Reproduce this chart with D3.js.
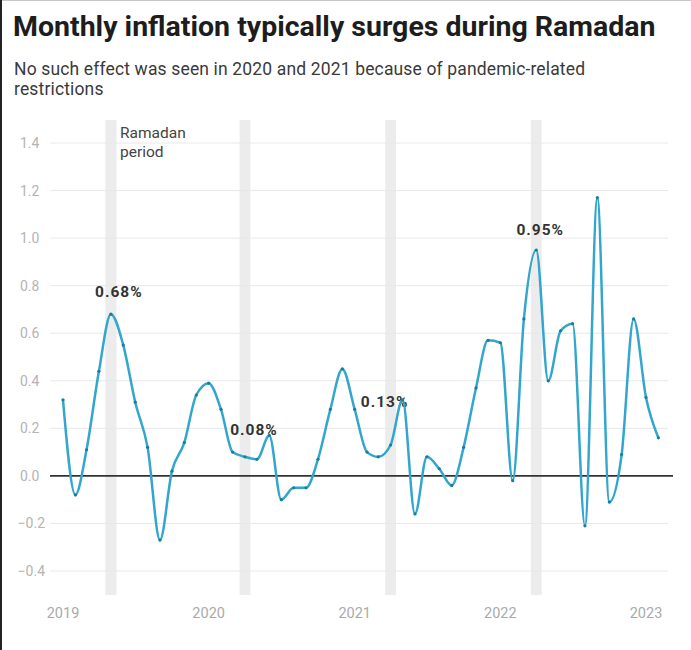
<!DOCTYPE html>
<html>
<head>
<meta charset="utf-8">
<script src="https://cdn.jsdelivr.net/npm/d3@7"></script>
<style>
  body { margin: 0; background: #fff; }
  svg { display: block; font-family: Roboto, "Noto Sans", sans-serif; }
</style>
</head>
<body>
<script>
    //Declare consts
        const width = 691;
        const height = 650;

    //Data - monthly inflation (%), Jan 2019 .. Feb 2023
        const startMonth = new Date(2019, 0, 1);
        const inflation = [
            0.32, -0.08, 0.11, 0.44, 0.68, 0.55, 0.31, 0.12, -0.27, 0.02, 0.14, 0.34,
            0.39, 0.28, 0.10, 0.08, 0.07, 0.17, -0.10, -0.05, -0.05, 0.07, 0.28, 0.45,
            0.28, 0.10, 0.08, 0.13, 0.32, -0.16, 0.08, 0.03, -0.04, 0.12, 0.37, 0.57,
            0.56, -0.02, 0.66, 0.95, 0.40, 0.61, 0.64, -0.21, 1.17, -0.11, 0.09, 0.66,
            0.33, 0.16
        ];
        // Ramadan months (year, month index)
        const ramadanMonths = [[2019, 4], [2020, 3], [2021, 3], [2022, 3]];
        const annotatedValues = ["0.68%", "0.08%", "0.13%", "0.95%"];
        const yTicks = [-0.4, -0.2, 0.0, 0.2, 0.4, 0.6, 0.8, 1.0, 1.2, 1.4];
        const yearTicks = [2019, 2020, 2021, 2022, 2023];

        const data = inflation.map((v, i) => ({
            date: new Date(startMonth.getFullYear(), startMonth.getMonth() + i, 1),
            value: v
        }));

    //Scales
        const xScale = d3.scaleTime()
            .domain([new Date(2019, 0, 1), new Date(2023, 0, 1)])
            .range([63, 646]);

        const yScale = d3.scaleLinear()
            .domain([-0.4, 1.4])
            .range([571, 143]);

    //SVG
        const svg = d3.select("body").append("svg")
            .attr("width", width)
            .attr("height", height);

        // frame
        svg.append("line").attr("x1", 0).attr("x2", width).attr("y1", 0.5).attr("y2", 0.5)
            .attr("stroke", "#c8c8c8");
        svg.append("line").attr("x1", 1).attr("x2", 1).attr("y1", 0).attr("y2", height)
            .attr("stroke", "#222").attr("stroke-width", 2);

    //Titles
        svg.append("text")
            .attr("x", 13).attr("y", 36)
            .attr("font-size", 28.5).attr("font-weight", 700).attr("fill", "#1d1d1d")
            .text("Monthly inflation typically surges during Ramadan");

        const sub = svg.append("text")
            .attr("x", 14).attr("y", 75)
            .attr("font-size", 17.5).attr("letter-spacing", 0.15).attr("fill", "#3a3a3a");
        sub.append("tspan").attr("x", 14).text("No such effect was seen in 2020 and 2021 because of pandemic-related");
        sub.append("tspan").attr("x", 14).attr("dy", 20).text("restrictions");

    //Ramadan bands
        const bandHalf = 0.45; // months
        svg.selectAll("rect.band")
            .data(ramadanMonths)
            .enter().append("rect")
            .attr("class", "band")
            .attr("x", d => xScale(new Date(d[0], d[1], 1)) - (xScale(new Date(d[0], d[1] + 1, 1)) - xScale(new Date(d[0], d[1], 1))) * bandHalf)
            .attr("width", d => (xScale(new Date(d[0], d[1] + 1, 1)) - xScale(new Date(d[0], d[1], 1))) * bandHalf * 2)
            .attr("y", 120)
            .attr("height", 475)
            .attr("fill", "#ececec");

        svg.append("text")
            .attr("x", 120).attr("y", 138)
            .attr("font-size", 15.5).attr("fill", "#444")
            .selectAll("tspan").data(["Ramadan", "period"]).enter().append("tspan")
            .attr("x", 120).attr("dy", (d, i) => i ? 19 : 0)
            .text(d => d);

    //Grid + y axis labels
        svg.selectAll("line.grid")
            .data(yTicks.filter(d => d !== 0))
            .enter().append("line")
            .attr("class", "grid")
            .attr("x1", 50).attr("x2", 668)
            .attr("y1", d => yScale(d)).attr("y2", d => yScale(d))
            .attr("stroke", "#e8e8e8").attr("stroke-width", 1);

        svg.selectAll("text.ylab")
            .data(yTicks)
            .enter().append("text")
            .attr("class", "ylab")
            .attr("x", d => d < 0 ? 45 : 20)
            .attr("text-anchor", d => d < 0 ? "end" : "start")
            .attr("y", d => yScale(d) + 5)
            .attr("font-size", 14).attr("fill", "#b4b4b4")
            .text(d => d3.format(".1f")(d).replace("-", "\u2212"));

    //Annotation labels (drawn under the line)
        const labelOffsets = [[8, -17], [9, -22], [-6, -38], [4, -15]];
        svg.selectAll("text.anno")
            .data(ramadanMonths)
            .enter().append("text")
            .attr("class", "anno")
            .attr("x", (d, i) => xScale(new Date(d[0], d[1], 1)) + labelOffsets[i][0])
            .attr("y", (d, i) => {
                const idx = (d[0] - 2019) * 12 + d[1];
                return yScale(inflation[idx]) + labelOffsets[i][1];
            })
            .attr("text-anchor", "middle")
            .attr("font-size", 15.5).attr("font-weight", 700).attr("fill", "#333")
            .attr("letter-spacing", 1)
            .text((d, i) => annotatedValues[i]);

    //Zero line
        svg.append("line")
            .attr("x1", 50).attr("x2", 673)
            .attr("y1", yScale(0)).attr("y2", yScale(0))
            .attr("stroke", "#333").attr("stroke-width", 1.6);

    //Line
        const line = d3.line()
            .x(d => xScale(d.date))
            .y(d => yScale(d.value))
            .curve(d3.curveMonotoneX);

        svg.append("path")
            .datum(data)
            .attr("d", line)
            .attr("fill", "none")
            .attr("stroke", "#33a6cd")
            .attr("stroke-width", 2.5)
            .attr("stroke-linejoin", "round");

        svg.selectAll("circle.pt")
            .data(data)
            .enter().append("circle")
            .attr("class", "pt")
            .attr("cx", d => xScale(d.date))
            .attr("cy", d => yScale(d.value))
            .attr("r", 1.6)
            .attr("fill", "#1a7c9c");

    //X axis labels
        svg.selectAll("text.xlab")
            .data(yearTicks)
            .enter().append("text")
            .attr("class", "xlab")
            .attr("x", d => xScale(new Date(d, 0, 1)))
            .attr("y", 618)
            .attr("text-anchor", "middle")
            .attr("font-size", 14.5).attr("fill", "#aaa")
            .text(d => d);
</script>
</body>
</html>
